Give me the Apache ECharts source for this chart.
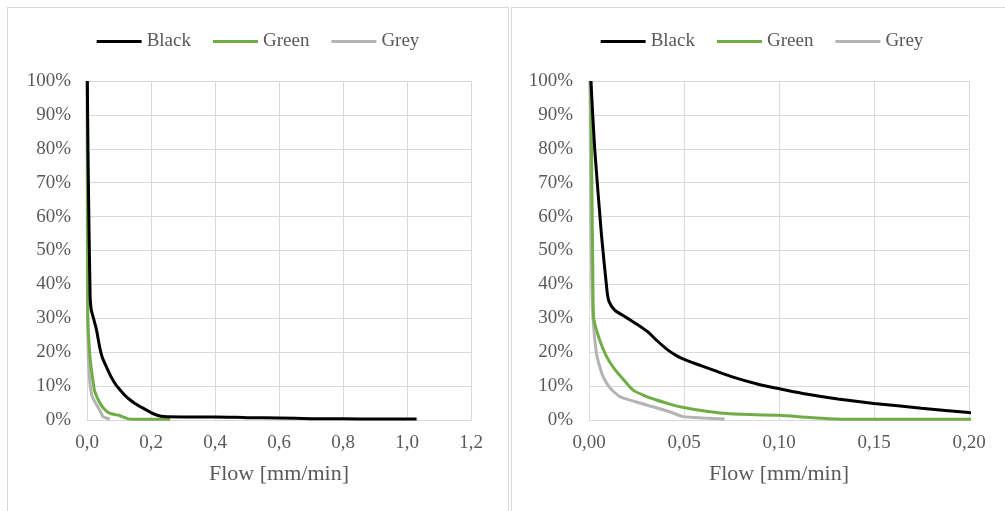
<!DOCTYPE html>
<html>
<head>
<meta charset="utf-8">
<script src="https://cdn.jsdelivr.net/npm/echarts@6/dist/echarts.min.js"></script>
<style>
  html, body { margin: 0; padding: 0; background: #fff; width: 1005px; height: 511px; overflow: hidden; }
  .panel { position: absolute; top: 7px; height: 510px; width: 500px; border: 1px solid #d9d9d9; background: #fff; }
  #left { left: 7px; }
  #right { left: 511px; }
</style>
</head>
<body>
<div id="left" class="panel"></div>
<div id="right" class="panel"></div>
<script>
// series names
const seriesNames = ['Black', 'Green', 'Grey'];

// [flow mm/min, %]
const blackData = [
  [0.001, 100], [0.003, 80], [0.0065, 55], [0.0095, 38], [0.0105, 35], [0.0135, 32.4],
  [0.018, 30.8], [0.0223, 29.3], [0.027, 27.6], [0.031, 26], [0.036, 23.3], [0.0416, 20.6],
  [0.046, 19], [0.0504, 17.8], [0.06, 15.8], [0.075, 12.8], [0.09, 10.4], [0.1004, 9.2],
  [0.115, 7.6], [0.131, 6.2], [0.15, 4.9], [0.175, 3.5], [0.2, 2.2], [0.22, 1.4],
  [0.24, 1.0], [0.3, 0.9], [0.4, 0.9], [0.5, 0.7], [0.6, 0.6], [0.7, 0.4],
  [0.8, 0.35], [0.9, 0.3], [1.03, 0.3]
];
const greenData = [
  [0.001, 100], [0.0015, 70], [0.002, 45], [0.0025, 30], [0.0056, 23.6], [0.009, 19],
  [0.0126, 15.7], [0.018, 12], [0.0232, 8.8], [0.03, 7], [0.0355, 5.9], [0.043, 4.6],
  [0.0504, 3.6], [0.06, 2.7], [0.069, 2.1], [0.085, 1.6], [0.1, 1.4], [0.115, 0.8],
  [0.126, 0.4], [0.14, 0.2], [0.2, 0.2], [0.26, 0.2]
];
const greyData = [
  [0.0005, 100], [0.001, 60], [0.0015, 40], [0.0021, 30], [0.0039, 19.7], [0.0055, 16],
  [0.0074, 12.8], [0.011, 9.5], [0.0162, 6.9], [0.025, 5.3], [0.0337, 3.9], [0.042, 2.5],
  [0.0495, 1], [0.06, 0.6], [0.0714, 0.3]
];
const seriesColors = ['#000000', '#70ad47', '#b4b4b4'];

const textColor = '#595959';
const gridColor = '#d9d9d9';
const font = '"Liberation Serif", "Times New Roman", serif';

function initChart(dom, xMax, xInterval, decimals, gridLeft, gridWidth) {
  const chart = echarts.init(dom, null, { renderer: 'canvas' });
  const allData = [blackData, greenData, greyData];

  var option = {
    animation: false,
    legend: {
      top: 19,
      left: 'center',
      icon: 'rect',
      itemWidth: 45,
      itemHeight: 3,
      itemGap: 22,
      data: seriesNames,
      textStyle: { color: textColor, fontSize: 19, fontFamily: font }
    },
    grid: { left: gridLeft, top: 73, width: gridWidth, height: 339 },
    xAxis: {
      type: 'value',
      min: 0,
      max: xMax,
      interval: xInterval,
      name: 'Flow [mm/min]',
      nameLocation: 'middle',
      nameGap: 43,
      nameTextStyle: { color: textColor, fontSize: 22, fontFamily: font },
      axisLine: { show: true, lineStyle: { color: gridColor, width: 1 } },
      axisTick: { show: false },
      axisLabel: {
        color: textColor, fontSize: 19, fontFamily: font, margin: 14,
        formatter: function (v) { return v.toFixed(decimals).replace('.', ','); }
      },
      splitLine: { show: true, lineStyle: { color: gridColor, width: 1 } }
    },
    yAxis: {
      type: 'value',
      min: 0,
      max: 100,
      interval: 10,
      axisLine: { show: true, lineStyle: { color: gridColor, width: 1 } },
      axisTick: { show: false },
      axisLabel: {
        color: textColor, fontSize: 19, fontFamily: font, margin: 16,
        formatter: '{value}%'
      },
      splitLine: { show: true, lineStyle: { color: gridColor, width: 1 } }
    },
    series: seriesNames.map(function (name, i) {
      return {
        name: name,
        type: 'line',
        data: allData[i],
        showSymbol: false,
        symbol: 'none',
        smooth: 0.2,
        clip: true,
        z: 10 - i,
        itemStyle: { color: seriesColors[i] },
        lineStyle: { color: seriesColors[i], width: 3 }
      };
    })
  };
  chart.setOption(option);
  return chart;
}

initChart(document.getElementById('left'), 1.2, 0.2, 1, 79, 384);
initChart(document.getElementById('right'), 0.2, 0.05, 2, 77, 380);
</script>
</body>
</html>
